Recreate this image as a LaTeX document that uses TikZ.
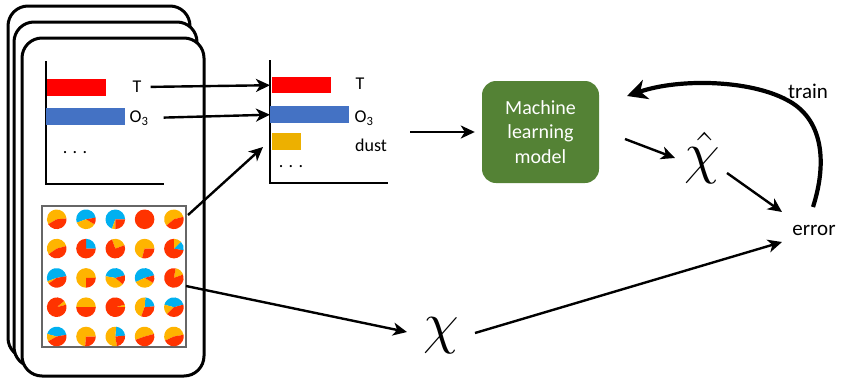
\RequirePackage{fix-cm}
\documentclass[tikz,border=0pt]{standalone}
\usepackage{fontspec}
\setmainfont{Carlito}
\usepackage{tikz}
\usetikzlibrary{arrows.meta,positioning}
\definecolor{barRed}{HTML}{FF0000}
\definecolor{barBlue}{HTML}{4472C4}
\definecolor{barGold}{HTML}{EDB000}
\definecolor{mlGreen}{HTML}{548235}
\definecolor{pieR}{HTML}{FF3300}
\definecolor{pieY}{HTML}{FFB400}
\definecolor{pieB}{HTML}{00B0F0}
\tikzset{
  card/.style={draw, line width=3pt, rounded corners=20pt, fill=white},
  bar/.style={inner sep=0pt, anchor=north west, minimum height=17pt},
  lbl/.style={font=\fontsize{18}{20}\selectfont, inner sep=0pt},
  axis/.style={line width=2pt},
  flow/.style={->, line width=2.4pt},
  mlbox/.style={fill=mlGreen, text=white, rounded corners=14pt, align=center,
    minimum width=117pt, minimum height=102pt, inner sep=0pt,
    font=\fontsize{20}{24.5}\selectfont},
  bigsym/.style={font=\fontsize{58}{60}\selectfont, inner sep=0pt},
  word/.style={font=\fontsize{21}{24}\selectfont, inner sep=0pt},
}

\begin{document}
\begin{tikzpicture}[x=1pt, y=-1pt,
  >={Stealth[length=14pt, width=13pt, inset=4pt]},
  trainarrow/.style={line width=4.2pt, -{Stealth[length=20pt, width=20pt, inset=6pt]}}]
\useasboundingbox (0,0) rectangle (843,378);
% stack of samples
\draw[card] (8,6) rectangle (190,358);
\draw[card] (14,22) rectangle (197,367);
\draw[card] (22,38) rectangle (204,376);

% input variables of one sample
\draw[axis] (46,61) -- (46,184) -- (164,184);
\node[bar, fill=barRed, minimum width=59pt] (barTa) at (47,79) {};
\node[bar, fill=barBlue, minimum width=79pt] (barOa) at (46,108) {};
\node[lbl] (lblTa) at (137,87) {T};
\node[lbl] (lblOa) at (139,118) {O\textsubscript{3}};
\node[lbl] (dotsA) at (75,153) {. . .};

% pie grid
\node[draw=black!60, line width=1.3pt, minimum width=144pt, minimum height=141pt, inner sep=0pt] (grid) at (114,276.5) {};
\foreach \c/\r/\wedges in {
  1/1/{5/210/pieY,210/365/pieR}, 2/1/{10/200/pieB,200/330/pieY,330/370/pieR},
  3/1/{0/250/pieB,250/270/pieY,270/360/pieR}, 4/1/{0/360/pieR},
  5/1/{15/220/pieY,220/375/pieR},
  1/2/{15/215/pieY,215/375/pieR}, 2/2/{0/90/pieB,90/360/pieR},
  3/2/{20/110/pieY,110/380/pieR}, 4/2/{0/255/pieY,255/360/pieR},
  5/2/{-10/45/pieB,45/90/pieY,90/350/pieR},
  1/3/{10/200/pieB,200/215/pieY,215/370/pieR}, 2/3/{0/270/pieY,270/360/pieR},
  3/3/{15/170/pieB,170/320/pieY,320/375/pieR}, 4/3/{15/205/pieB,205/330/pieY,330/375/pieR},
  5/3/{20/80/pieY,80/380/pieR},
  1/4/{15/40/pieY,40/375/pieR}, 2/4/{0/180/pieY,180/360/pieR},
  3/4/{0/15/pieY,15/360/pieR}, 4/4/{5/85/pieB,85/250/pieY,250/365/pieR},
  5/4/{15/165/pieB,165/225/pieY,225/375/pieR},
  1/5/{10/165/pieB,165/210/pieY,210/370/pieR}, 2/5/{0/265/pieY,265/360/pieR},
  3/5/{5/85/pieB,85/280/pieY,280/365/pieR}, 4/5/{15/200/pieY,200/375/pieR},
  5/5/{10/205/pieY,205/370/pieR}}{
  \begin{scope}[shift={(56.7+29.3*\c-29.3, 219.3+29.3*\r-29.3)}, yscale=-1]
    \foreach \a/\b/\col in \wedges
      \fill[\col] (0,0) -- (\a:9.8) arc[start angle=\a, end angle=\b, radius=9.8] -- cycle;
  \end{scope}
}

% selected variables
\draw[axis] (270,60) -- (270,183) -- (388,183);
\node[bar, fill=barRed, minimum width=59pt, minimum height=16pt] (barTb) at (272,77) {};
\node[bar, fill=barBlue, minimum width=79pt] (barOb) at (270,106) {};
\node[bar, fill=barGold, minimum width=29pt] (barDb) at (272,133) {};
\node[lbl] (lblTb) at (360,84) {T};
\node[lbl] (lblOb) at (364,118) {O\textsubscript{3}};
\node[lbl] (lblDb) at (371,145) {dust};
\node[lbl] (dotsB) at (291,167) {. . .};

\node[mlbox] (ml) at (540.5,132) {Machine\\learning\\model};
\node[bigsym] (chihat) at (702,158) {$\hat{\chi}$};
\node[bigsym] (chi) at (441,336) {$\chi$};
\node[word] (error) at (814,230) {error};
\node[word] (train) at (808,91) {train};

\coordinate (pieout) at (188,215);
\coordinate (dustin) at (263,147);
\coordinate (gridout) at (186,286);
\coordinate (chiin) at (407,332);
\coordinate (chiout) at (475,333);
\coordinate (errin) at (782,242);
\coordinate (chartout) at (410,132);
\coordinate (mlout) at (625,139);
\coordinate (hatin) at (675,158);
\coordinate (hatout) at (727,173);
\coordinate (errtop) at (782,212);
\coordinate (trainfrom) at (813,207);
\coordinate (trainto) at (627,96);

\draw[flow, shorten <=9pt, shorten >=2pt] (lblTa.east) -- (barTb.west);
\draw[flow, shorten <=15pt] (lblOa.east) -- (barOb.west);
\draw[flow] (pieout) -- (dustin);
\draw[flow] (gridout) -- (chiin);
\draw[flow] (chartout) -- ([xshift=-7pt]ml.west);
\draw[flow] (mlout) -- (hatin);
\draw[flow] (hatout) -- (errtop);
\draw[flow] (chiout) -- (errin);
\draw[trainarrow] (trainfrom) .. controls (828,160) and (822,118) .. (787,100)
  .. controls (750,80) and (680,78) .. (trainto);
\end{tikzpicture}
\end{document}
